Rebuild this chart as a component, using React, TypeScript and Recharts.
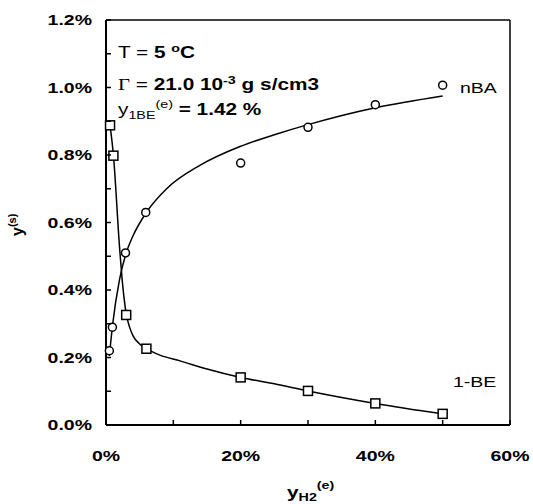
import React from 'react'
import { ComposedChart, Line, Scatter, XAxis, YAxis, ReferenceLine } from 'recharts'

// measured points (x: y_H2 in %, y: y(s) in %)
const nbaX = [0.5, 0.95, 2.9, 5.9, 20, 30, 40, 50]
const nbaY = [0.22, 0.29, 0.51, 0.63, 0.776, 0.882, 0.949, 1.007]
const beX = [0.6, 1.1, 3.0, 6.0, 20, 30, 40, 50]
const beY = [0.888, 0.798, 0.326, 0.226, 0.141, 0.101, 0.064, 0.033]

// fitted curves
const nbaFitX = [0.5, 1, 2, 3, 4, 6, 9, 14, 20, 25, 30, 40, 50]
const nbaFitY = [0.205, 0.3, 0.43, 0.51, 0.56, 0.63, 0.7, 0.77, 0.826, 0.86, 0.89, 0.94, 0.975]
const beFitX = [0.6, 1.1, 2, 2.5, 3, 3.5, 4, 5, 6, 8, 11, 15, 20, 25, 30, 40, 50]
const beFitY = [0.888, 0.8, 0.53, 0.41, 0.33, 0.29, 0.265, 0.24, 0.226, 0.207, 0.19, 0.166, 0.141, 0.122, 0.101, 0.064, 0.033]

const xTicks = [0, 10, 20, 30, 40, 50, 60]
const xLabels = [0, 20, 40, 60]
const yTicks = [0, 0.1, 0.2, 0.3, 0.4, 0.5, 0.6, 0.7, 0.8, 0.9, 1.0, 1.1, 1.2]
const yLabels = [0, 0.2, 0.4, 0.6, 0.8, 1.0, 1.2]

const toPoints = (xs: number[], ys: number[]) => xs.map((x, i) => ({ x, y: ys[i] }))

const FONT = '"Liberation Sans", Arial, sans-serif'
const SX = 1.3 // the original is stretched sideways
const Y_GAP = 14
const X_GAP = 25
const TICK = 5

// tick marks point into the plot, so the custom ticks draw them
const YTick = ({ x, y, payload }: any) => {
  const v = payload.value
  const ax = x + Y_GAP
  const show = yLabels.some((l) => Math.abs(l - v) < 1e-6)
  return (
    <g>
      <line x1={ax} x2={ax + TICK} y1={y} y2={y} stroke="#000" strokeWidth={1.5} />
      {show && (
        <text transform={`translate(${x},${y}) scale(${SX},1)`} textAnchor="end" dy="0.36em"
          fontFamily={FONT} fontWeight="bold" fontSize={15} fill="#000">
          {v.toFixed(1)}%
        </text>
      )}
    </g>
  )
}

const XTick = ({ x, y, payload }: any) => {
  const v = payload.value
  const ay = y - X_GAP
  return (
    <g>
      <line x1={x} x2={x} y1={ay} y2={ay - TICK} stroke="#000" strokeWidth={1.5} />
      {xLabels.includes(v) && (
        <text transform={`translate(${x},${y}) scale(${SX},1)`} textAnchor="middle" dy="0.71em"
          fontFamily={FONT} fontWeight="bold" fontSize={15} fill="#000">
          {v}%
        </text>
      )}
    </g>
  )
}

const CircleMark = ({ cx, cy }: any) => (
  <circle cx={cx} cy={cy} r={4} fill="#fff" stroke="#000" strokeWidth={1.5} />
)
const SquareMark = ({ cx, cy }: any) => (
  <rect x={cx - 4.5} y={cy - 4.5} width={9} height={9} fill="#fff" stroke="#000" strokeWidth={1.5} />
)

export default function App() {
  return (
    <div style={{ position: 'absolute', left: 0, top: 0, width: 533, height: 504, background: '#fff' }}>
      <ComposedChart width={533} height={504} margin={{ top: 20, right: 23, left: 0, bottom: 0 }}>
        <XAxis
          type="number"
          dataKey="x"
          domain={[0, 60]}
          ticks={xTicks}
          interval={0}
          tick={<XTick />}
          tickSize={0}
          tickMargin={X_GAP}
          height={79}
          axisLine={{ stroke: '#000', strokeWidth: 2 }}
          tickLine={false}
        />
        <YAxis
          type="number"
          dataKey="y"
          domain={[0, 1.2]}
          ticks={yTicks}
          interval={0}
          tick={<YTick />}
          tickSize={0}
          tickMargin={Y_GAP}
          width={106}
          axisLine={{ stroke: '#000', strokeWidth: 2 }}
          tickLine={false}
        />
        <ReferenceLine y={1.2} stroke="#000" strokeWidth={1.5} />
        <ReferenceLine x={60} stroke="#000" strokeWidth={1.5} />
        <Line data={toPoints(nbaFitX, nbaFitY)} dataKey="y" type="monotone" stroke="#000" strokeWidth={1.5}
          dot={false} activeDot={false} isAnimationActive={false} />
        <Line data={toPoints(beFitX, beFitY)} dataKey="y" type="monotone" stroke="#000" strokeWidth={1.5}
          dot={false} activeDot={false} isAnimationActive={false} />
        <Scatter data={toPoints(nbaX, nbaY)} dataKey="y" shape={<CircleMark />} isAnimationActive={false} />
        <Scatter data={toPoints(beX, beY)} dataKey="y" shape={<SquareMark />} isAnimationActive={false} />
      </ComposedChart>

      <svg width={533} height={504} style={{ position: 'absolute', left: 0, top: 0, pointerEvents: 'none' }}
        fontFamily={FONT} fill="#000">
        {/* conditions box */}
        <g transform={`translate(118,0) scale(${SX},1)`} fontSize={16}>
          <text x={0} y={58}>
            T = <tspan fontWeight="bold">5 </tspan>
            <tspan fontWeight="bold" fontSize={11} dy={-6}>o</tspan>
            <tspan fontWeight="bold" dy={6}>C</tspan>
          </text>
          <text x={0} y={90}>
            <tspan fontFamily='"Liberation Serif", "Times New Roman", serif'>Γ</tspan> = <tspan fontWeight="bold">21.0 10</tspan>
            <tspan fontWeight="bold" fontSize={11} dy={-6}>-3</tspan>
            <tspan fontWeight="bold" dy={6}> g s/cm3</tspan>
          </text>
          <text x={0} y={115}>
            y<tspan fontSize={11} dy={4}>1BE</tspan>
            <tspan fontSize={11} dy={-11}>(e)</tspan>
            <tspan fontWeight="bold" dy={7}> = 1.42 %</tspan>
          </text>
        </g>
        {/* series names */}
        <text transform={`translate(460,93) scale(${SX},1)`} fontSize={15}>nBA</text>
        <text transform={`translate(453,387) scale(${SX},1)`} fontSize={15}>1-BE</text>
        {/* axis titles */}
        <text transform="translate(23,236) rotate(-90)" fontSize={16} fontWeight="bold">
          y<tspan fontSize={11} dy={-7}>(s)</tspan>
        </text>
        <text transform={`translate(287,498) scale(${SX},1)`} fontSize={16} fontWeight="bold">
          y<tspan fontSize={11} dy={3}>H2</tspan>
          <tspan fontSize={11} dy={-12}>(e)</tspan>
        </text>
      </svg>
    </div>
  )
}
